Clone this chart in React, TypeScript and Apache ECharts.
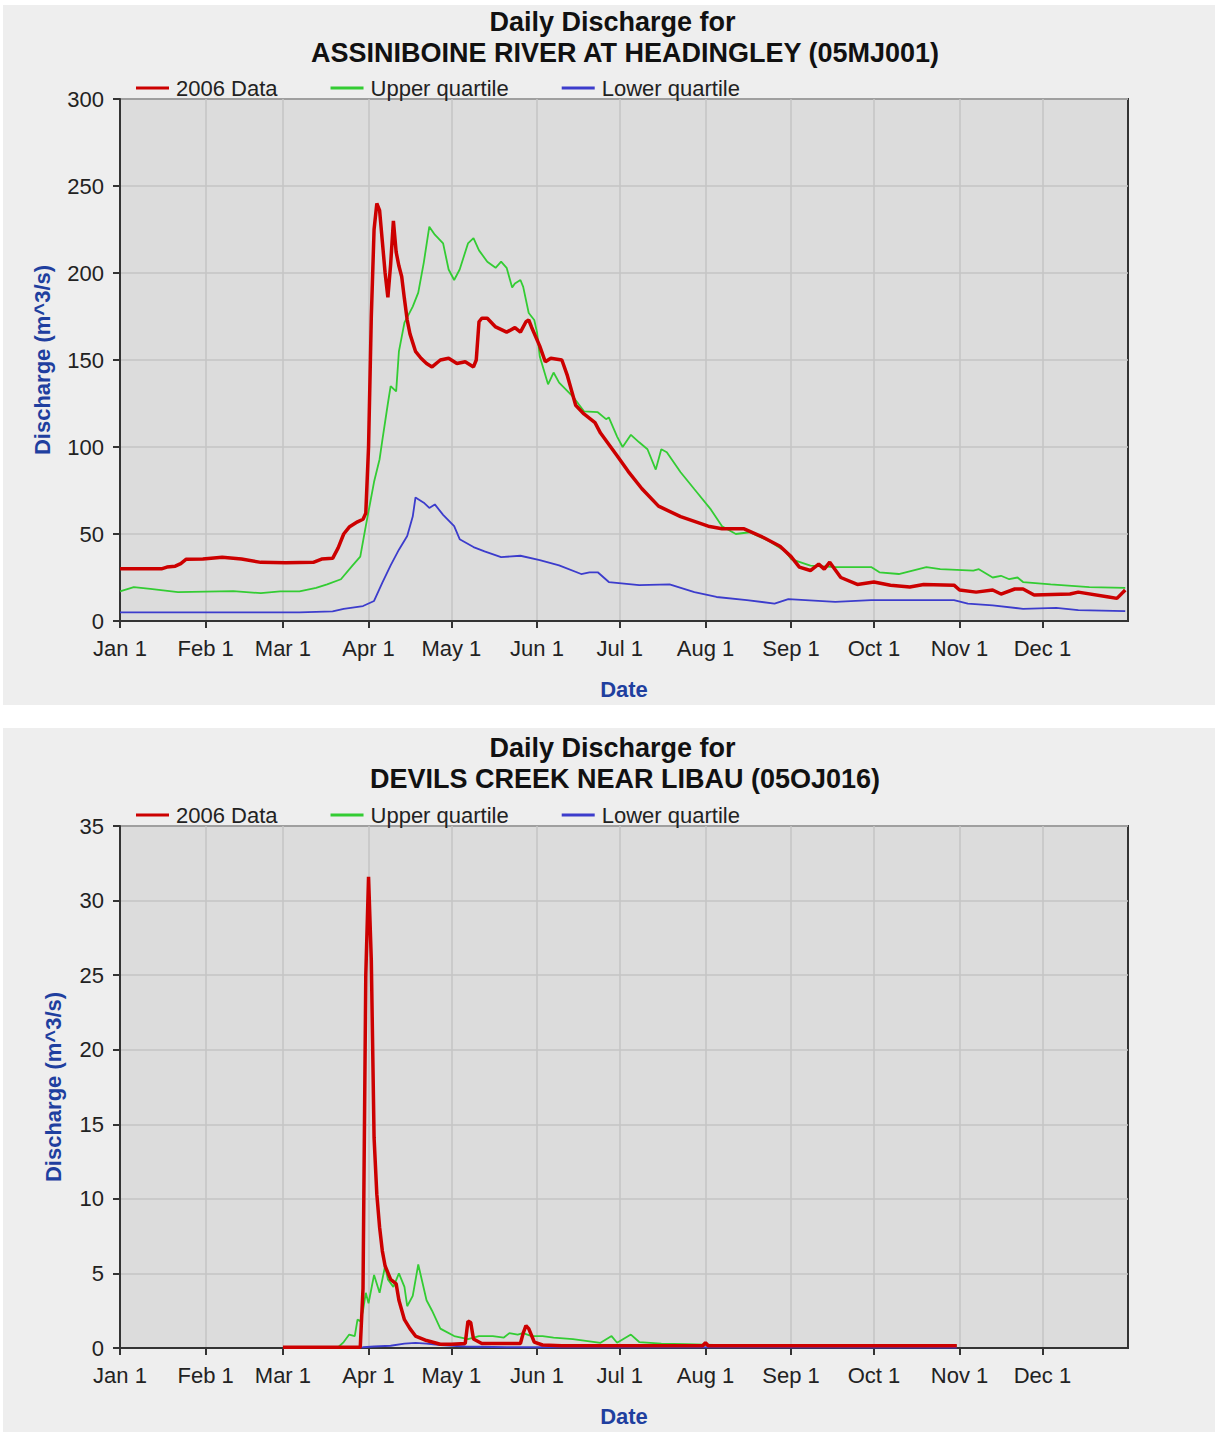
import { useEffect, useRef } from "react";
import * as echarts from "echarts";

// Month boundaries (day of year, Jan 1 = 0) and their tick labels
const monthStartDays = [0, 31, 59, 90, 120, 151, 181, 212, 243, 273, 304, 334];
const monthTickLabels = ["Jan 1", "Feb 1", "Mar 1", "Apr 1", "May 1", "Jun 1", "Jul 1", "Aug 1", "Sep 1", "Oct 1", "Nov 1", "Dec 1"];
const legendNames = ["2006 Data", "Upper quartile", "Lower quartile"];

// ASSINIBOINE RIVER AT HEADINGLEY (05MJ001)
const headingley2006Days = [0, 15, 17, 20, 22, 24, 30, 37, 44, 51, 60, 70, 73, 77, 79, 81, 83, 86, 88, 89, 90, 91, 92, 93, 94, 95, 96, 97, 98, 99, 100, 101, 102, 103, 104, 105, 106, 107, 109, 111, 113, 116, 119, 122, 125, 128, 129, 130, 131, 133, 136, 140, 143, 145, 147, 148, 149, 152, 154, 156, 160, 162, 165, 168, 172, 174, 180, 184, 189, 195, 203, 213, 218, 226, 233, 239, 243, 246, 250, 253, 255, 257, 261, 267, 273, 279, 286, 291, 302, 304, 310, 316, 319, 324, 327, 331, 344, 347, 358, 361, 364];
const headingley2006Flow = [30, 30, 31, 31.5, 33, 35.5, 35.6, 36.7, 35.6, 33.7, 33.5, 33.7, 35.6, 36, 42, 50, 54, 57, 58.5, 62, 100, 175, 225, 240, 236, 218, 200, 186, 205, 230, 212, 204, 198, 185, 173, 165, 160, 155, 151, 148, 146, 150, 151, 148, 149, 146, 150, 172, 174, 174, 169, 166, 168.6, 166, 172, 173, 169, 158, 149, 151, 150, 141, 124, 119, 114, 108, 95, 86, 76, 66, 60, 54.5, 53, 53, 48, 43, 37, 31, 29, 32.7, 29.8, 33.8, 25, 21, 22.4, 20.6, 19.5, 21, 20.6, 17.8, 16.6, 17.8, 15.5, 18.4, 18.4, 14.9, 15.5, 16.6, 13.8, 13, 17.8];

const headingleyUpperDays = [0, 5, 11, 21, 41, 51, 58, 65, 71, 75, 80, 84, 87, 89, 92, 94, 95, 97, 98, 100, 101, 103, 106, 108, 110, 112, 114, 117, 119, 121, 123, 126, 128, 130, 133, 136, 138, 140, 142, 143, 145, 146, 148, 150, 151, 152, 155, 157, 159, 164, 168, 173, 176, 177, 180, 182, 185, 188, 191, 194, 196, 198, 203, 208, 214, 218, 223, 228, 235, 241, 243, 250, 259, 272, 275, 282, 292, 297, 309, 311, 316, 319, 322, 325, 327, 337, 351, 364];
const headingleyUpperFlow = [17, 19.5, 18.5, 16.6, 17.2, 16, 17, 17, 19, 21, 24, 31.5, 37, 54.5, 80, 93, 104, 125, 135, 132, 155, 171.5, 180.7, 188.7, 206, 226.6, 222, 217, 202, 196, 202, 217, 220, 213, 206.5, 203, 206.5, 203, 191.6, 194, 196, 192, 177, 173, 166, 152, 136, 142.8, 137, 129, 120.5, 120, 116, 117, 106, 100, 107, 102.7, 98.7, 87, 98.7, 97, 85.5, 75.7, 64, 54.5, 50, 51, 46, 40, 35.6, 31.8, 31, 31, 28, 27, 31, 29.8, 29, 29.8, 25, 26, 24, 25, 22.4, 21, 19.5, 19];

const headingleyLowerDays = [0, 29, 47, 65, 77, 81, 88, 92, 95, 98, 101, 104, 106, 107, 110, 112, 114, 117, 121, 123, 128, 132, 138, 145, 152, 159, 167, 170, 173, 177, 188, 199, 208, 216, 227, 237, 242, 259, 272, 287, 302, 307, 316, 327, 339, 347, 364];
const headingleyLowerFlow = [5, 5, 5, 5, 5.5, 7, 8.6, 11.5, 22, 32, 41, 48.8, 60, 71, 68, 65, 67, 61, 54.5, 47, 42.5, 40, 36.7, 37.5, 35, 32, 27, 28, 28, 22.4, 20.6, 21, 16.6, 13.8, 12, 10, 12.6, 11, 12, 12, 12, 10, 9, 7, 7.5, 6.3, 5.7];

// DEVILS CREEK NEAR LIBAU (05OJ016)
const libau2006Days = [59, 87, 88, 89, 90, 91, 92, 93, 94, 95, 96, 98, 100, 101, 103, 105, 107, 111, 116, 120, 125, 126, 127, 128, 131, 145, 146, 147, 148, 150, 153, 160, 211, 212, 213, 250, 303];
const libau2006Flow = [0.05, 0.05, 4, 25, 31.6, 26, 14.1, 10.3, 8.1, 6.5, 5.5, 4.6, 4.3, 3.2, 1.9, 1.3, 0.8, 0.5, 0.25, 0.25, 0.3, 1.8, 1.7, 0.6, 0.3, 0.3, 1.0, 1.5, 1.3, 0.4, 0.2, 0.15, 0.15, 0.35, 0.15, 0.15, 0.15];

const libauUpperDays = [59, 79, 81, 83, 85, 86, 87, 88, 89, 90, 92, 94, 96, 97, 99, 101, 103, 104, 106, 108, 111, 113, 116, 117, 121, 126, 130, 135, 139, 141, 144, 146, 149, 153, 157, 164, 174, 178, 180, 185, 188, 196, 205, 215, 303];
const libauUpperFlow = [0.02, 0.05, 0.4, 0.9, 0.8, 1.9, 1.8, 2.5, 3.7, 3.0, 4.9, 3.7, 5.5, 4.6, 4.1, 5.0, 4.1, 2.8, 3.5, 5.6, 3.2, 2.5, 1.3, 1.2, 0.8, 0.6, 0.8, 0.8, 0.7, 1.0, 0.9, 1.0, 0.8, 0.8, 0.7, 0.6, 0.35, 0.8, 0.35, 0.9, 0.4, 0.3, 0.25, 0.2, 0.15];

const libauLowerDays = [59, 88, 92, 98, 103, 107, 111, 116, 125, 140, 303];
const libauLowerFlow = [0.02, 0.05, 0.1, 0.15, 0.3, 0.35, 0.3, 0.2, 0.1, 0.05, 0.03];

const FONT = '"Liberation Sans", Arial, Helvetica, sans-serif';
const NAME_BLUE = "#1f3f9f";
const SERIES_COLORS = ["#cc0000", "#33cc33", "#3c3ccc"];

function pairs(days: number[], values: number[]) {
  return days.map((d, i) => [d, values[i]]);
}

interface PanelConfig {
  station: string;
  titleY1: number;
  titleY2: number;
  legendTop: number;
  gridTop: number;
  gridHeight: number;
  yMax: number;
  yStep: number;
  yNameGap: number;
  observed: number[][];
  upper: number[][];
  lower: number[][];
}

function buildOption(cfg: PanelConfig) {
  return {
    animation: false,
    backgroundColor: "#eeeeee",
    graphic: [
      {
        type: "text",
        x: 609.5,
        y: cfg.titleY1,
        style: {
          text: "Daily Discharge for",
          font: `bold 27px ${FONT}`,
          fill: "#111111",
          align: "center",
          verticalAlign: "middle",
        },
      },
      {
        type: "text",
        x: 622,
        y: cfg.titleY2,
        style: {
          text: cfg.station,
          font: `bold 27px ${FONT}`,
          fill: "#111111",
          align: "center",
          verticalAlign: "middle",
        },
      },
    ],
    legend: {
      left: 128,
      top: cfg.legendTop,
      itemWidth: 33,
      itemHeight: 3,
      itemGap: 53,
      selectedMode: false,
      data: legendNames.map((name) => ({ name, icon: "rect" })),
      textStyle: { fontSize: 22, color: "#222222", fontFamily: FONT, padding: [0, 0, 0, 2] },
    },
    grid: {
      left: 117,
      top: cfg.gridTop,
      width: 1008,
      height: cfg.gridHeight,
      show: true,
      backgroundColor: "#dcdcdc",
      borderColor: "#333333",
      borderWidth: 2,
    },
    xAxis: {
      type: "value",
      min: 0,
      max: 365,
      name: "Date",
      nameLocation: "middle",
      nameGap: 57,
      nameTextStyle: { color: NAME_BLUE, fontWeight: "bold", fontSize: 22, fontFamily: FONT },
      axisLine: { show: true, lineStyle: { color: "#333333", width: 2 } },
      axisTick: { show: true, length: 7, customValues: monthStartDays, lineStyle: { color: "#333333", width: 2 } },
      axisLabel: {
        customValues: monthStartDays,
        formatter: (v: number) => monthTickLabels[monthStartDays.indexOf(v)] ?? "",
        fontSize: 22,
        color: "#222222",
        fontFamily: FONT,
        margin: 16,
      },
      splitLine: { show: true, lineStyle: { color: "#c4c4c4", width: 1.5 } },
    },
    yAxis: {
      type: "value",
      min: 0,
      max: cfg.yMax,
      interval: cfg.yStep,
      name: "Discharge (m^3/s)",
      nameLocation: "middle",
      nameGap: cfg.yNameGap,
      nameTextStyle: { color: NAME_BLUE, fontWeight: "bold", fontSize: 22, fontFamily: FONT },
      axisLine: { show: true, lineStyle: { color: "#333333", width: 2 } },
      axisTick: { show: true, length: 7, lineStyle: { color: "#333333", width: 2 } },
      axisLabel: { fontSize: 22, color: "#222222", fontFamily: FONT, margin: 16 },
      splitLine: { show: true, lineStyle: { color: "#c4c4c4", width: 1.5 } },
    },
    series: [
      {
        name: legendNames[0],
        type: "line",
        data: cfg.observed,
        symbol: "none",
        z: 4,
        itemStyle: { color: SERIES_COLORS[0] },
        lineStyle: { color: SERIES_COLORS[0], width: 3.5 },
      },
      {
        name: legendNames[1],
        type: "line",
        data: cfg.upper,
        symbol: "none",
        z: 3,
        itemStyle: { color: SERIES_COLORS[1] },
        lineStyle: { color: SERIES_COLORS[1], width: 1.8 },
      },
      {
        name: legendNames[2],
        type: "line",
        data: cfg.lower,
        symbol: "none",
        z: 3,
        itemStyle: { color: SERIES_COLORS[2] },
        lineStyle: { color: SERIES_COLORS[2], width: 1.8 },
      },
    ],
  };
}

const headingleyPanel: PanelConfig = {
  station: "ASSINIBOINE RIVER AT HEADINGLEY (05MJ001)",
  titleY1: 16.5,
  titleY2: 48,
  legendTop: 67,
  gridTop: 94,
  gridHeight: 523,
  yMax: 300,
  yStep: 50,
  yNameGap: 67,
  observed: pairs(headingley2006Days, headingley2006Flow),
  upper: pairs(headingleyUpperDays, headingleyUpperFlow),
  lower: pairs(headingleyLowerDays, headingleyLowerFlow),
};

const libauPanel: PanelConfig = {
  station: "DEVILS CREEK NEAR LIBAU (05OJ016)",
  titleY1: 19.5,
  titleY2: 51,
  legendTop: 71,
  gridTop: 98,
  gridHeight: 526,
  yMax: 35,
  yStep: 5,
  yNameGap: 56,
  observed: pairs(libau2006Days, libau2006Flow),
  upper: pairs(libauUpperDays, libauUpperFlow),
  lower: pairs(libauLowerDays, libauLowerFlow),
};

function DischargePanel({ cfg, top, height }: { cfg: PanelConfig; top: number; height: number }) {
  const ref = useRef<HTMLDivElement>(null);
  useEffect(() => {
    if (!ref.current) return;
    const chart = echarts.init(ref.current, undefined, { renderer: "svg" });
    chart.setOption(buildOption(cfg));
    return () => chart.dispose();
  }, [cfg]);
  return (
    <div
      ref={ref}
      style={{ position: "absolute", left: 3, top, width: 1212, height }}
    />
  );
}

export default function App() {
  return (
    <div
      style={{
        position: "absolute",
        left: 0,
        top: 0,
        width: 1215,
        height: 1432,
        background: "#ffffff",
        overflow: "hidden",
      }}
    >
      <DischargePanel cfg={headingleyPanel} top={5} height={700} />
      <DischargePanel cfg={libauPanel} top={728} height={704} />
    </div>
  );
}
